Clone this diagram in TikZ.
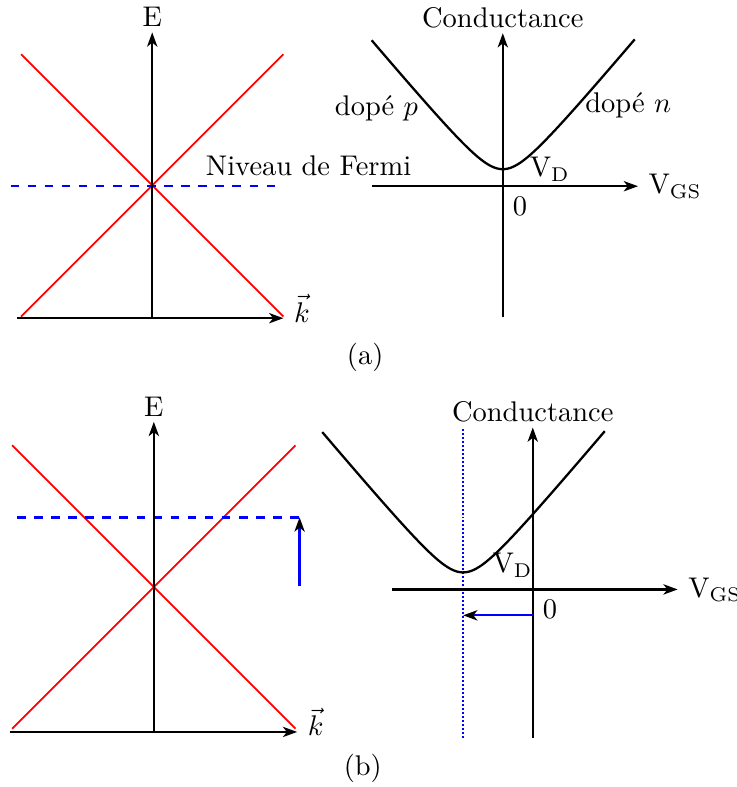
\documentclass[tikz,border=0pt]{standalone}
\usepackage{amsmath}
\usetikzlibrary{arrows.meta}

\begin{document}
\begin{tikzpicture}[>={Stealth[length=5pt,width=3.6pt,inset=1.4pt]},
  axe/.style={thick,->},
  titre/.style={above,inner sep=1.5pt},
  vecteur/.style={right,yshift=3.5pt},
  bande/.style={red,semithick},
  fermi/.style={blue,thick,dashed},
  courbe/.style={thick,smooth,samples=100},
  decal/.style={blue,thick,-{Stealth[length=5pt,width=3.6pt,inset=1.4pt,black]}}]
\def\VD{-0.86}
\useasboundingbox (0,0) rectangle (9.10,9.72);

% (a) cone de Dirac
\begin{scope}[shift={(1.88,5.79)}]
\draw[bande] (-1.62,3.26) -- (1.62,0.02);
\draw[bande] (-1.62,0.02) -- (1.62,3.26);
\draw[fermi] (-1.75,1.63) -- (1.60,1.63);
\draw[axe] (0,0) -- (0,3.53) node[titre] (Ea) {E};
\draw[axe] (-1.67,0) -- (1.62,0) node[vecteur] (ka) {$\vec{k}$};
\node[anchor=west] (fermia) at (0.54,1.88) {Niveau de Fermi};
\end{scope}

% (a) conductance
\begin{scope}[shift={(6.21,7.42)}]
\draw[axe] (-1.62,0) -- (1.67,0) node[right] (vgsa) {V$_{\mathrm{GS}}$};
\draw[axe] (0,-1.62) -- (0,1.89) node[titre] (conda) {Conductance};
\draw[courbe,domain=-1.62:1.63] plot (\x,{-0.16+sqrt(0.137+1.416*\x*\x)});
\node[below right] (zeroa) at (0,0) {0};
\node (vda) at (0.58,0.21) {V$_{\mathrm{D}}$};
\node (dopep) at (-1.56,0.96) {dopé $p$};
\node (dopen) at (1.55,1.00) {dopé $n$};
\end{scope}

\node (a) at (4.51,5.31) {(a)};

% (b) cone de Dirac, niveau de Fermi decale
\begin{scope}[shift={(1.90,0.68)}]
\draw[bande] (-1.75,3.54) -- (1.75,0.04);
\draw[bande] (-1.75,0.04) -- (1.75,3.54);
\draw[fermi] (-1.69,2.65) -- (1.80,2.65);
\coordinate (montee) at (1.80,1.80);
\coordinate (niveau) at (1.80,2.65);
\draw[decal] (montee) -- (niveau);
\draw[axe] (0,0) -- (0,3.83) node[titre] (Eb) {E};
\draw[axe] (-1.78,0) -- (1.77,0) node[vecteur] (kb) {$\vec{k}$};
\end{scope}

% (b) conductance
\begin{scope}[shift={(6.58,2.44)}]
\draw[blue,line width=0.7pt,dash pattern=on 0.7pt off 0.7pt] (\VD,-1.83) -- (\VD,2.0);
\draw[axe] (-1.74,0) -- (1.79,0) node[right] (vgsb) {V$_{\mathrm{GS}}$};
\draw[axe] (0,-1.83) -- (0,2.0) node[titre] (condb) {Conductance};
\draw[courbe,domain=-2.60:0.89] plot (\x,{-0.16+sqrt(0.137+1.416*(\x-\VD)*(\x-\VD))});
\coordinate (origine) at (0,-0.32);
\coordinate (dirac) at (\VD,-0.32);
\draw[decal] (origine) -- (dirac);
\node[below right] (zerob) at (0,0) {0};
\node (vdb) at (-0.25,0.30) {V$_{\mathrm{D}}$};
\end{scope}

\node (b) at (4.48,0.23) {(b)};
\end{tikzpicture}
\end{document}
